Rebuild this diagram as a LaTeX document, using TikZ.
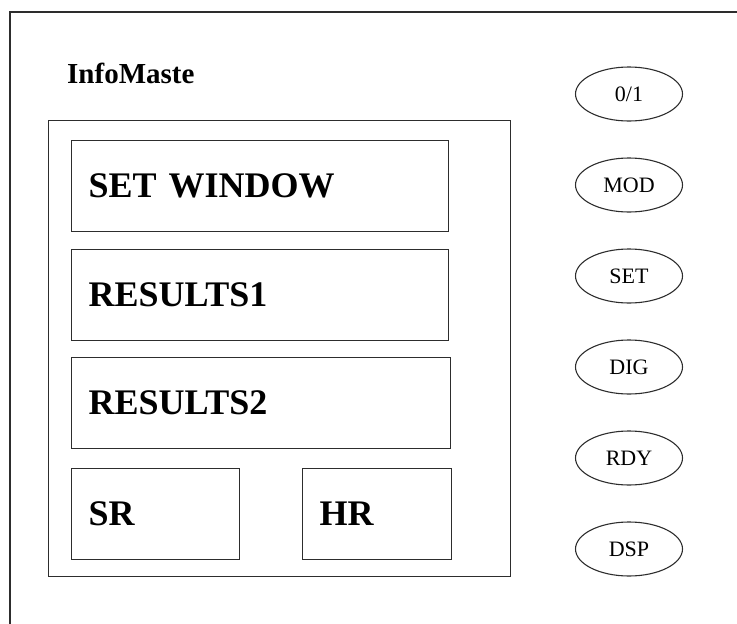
\documentclass[tikz,border=0pt]{standalone}
\usepackage{fontspec}
\setmainfont{Liberation Serif}
\usepackage{tikz}
\usetikzlibrary{positioning,shapes.geometric}
\definecolor{lineGray}{RGB}{45,45,45}

\begin{document}
\begin{tikzpicture}[x=1pt, y=-1pt,
    frame/.style={draw=lineGray, line width=1.3pt},
    field/.style={frame, anchor=north west, inner xsep=17pt, align=left,
      font=\fontsize{36}{40}\selectfont\bfseries},
    key/.style={draw=lineGray, line width=1.1pt, ellipse, minimum width=107pt,
      minimum height=54pt, inner sep=0pt, font=\fontsize{22}{24}\selectfont}]
    \useasboundingbox (0,0) rectangle (737,624);
    % Device housing (open to the right and bottom)
    \draw[frame] (10,624) -- (10,12) -- (737,12);
    \node[anchor=base west, inner sep=0pt, font=\fontsize{29}{31}\selectfont\bfseries]
      (title) at (67,83) {InfoMaste};
    % Display panel
    \node[frame, anchor=north west, minimum width=462pt, minimum height=456pt,
      inner sep=0pt] (panel) at (48,120) {};
    % Display fields
    \node[field, text width=343pt, minimum height=91pt] (setwin) at (71,140) {SET WINDOW};
    \node[field, text width=343pt, minimum height=91pt] (res1) at (71,249) {RESULTS1};
    \node[field, text width=345pt, minimum height=91pt] (res2) at (71,357) {RESULTS2};
    \node[field, text width=134pt, minimum height=91pt] (sr) at (71,468) {SR};
    \node[field, text width=115pt, minimum height=91pt] (hr) at (302,468) {HR};
    % Keys on the right
    \foreach \k/\lbl [count=\i from 0] in {onoff/0\slash 1, mod/MOD, set/SET, dig/DIG, rdy/RDY, dsp/DSP} {
      \node[key] (\k) at (629, 94+91*\i) {\lbl};
    }
\end{tikzpicture}
\end{document}
